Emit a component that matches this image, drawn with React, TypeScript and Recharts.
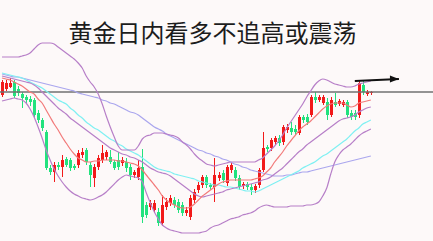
import React from 'react';
import { ComposedChart, Bar, Line, XAxis, YAxis, ReferenceLine } from 'recharts';

document.body.style.margin = '0';

const title = '黄金日内看多不追高或震荡';

// daily candles
const opens = [
  2355, 2361, 2363, 2368, 2361, 2356, 2353, 2351, 2350, 2337,
  2330, 2318, 2282, 2278, 2285, 2283, 2291, 2290, 2284, 2285,
  2295, 2300, 2285, 2272, 2283, 2290, 2293, 2293, 2288, 2290,
  2287, 2288, 2283, 2275, 2273, 2283, 2245, 2243, 2240, 2238,
  2227, 2243, 2247, 2250, 2248, 2245, 2237, 2233, 2250, 2260,
  2265, 2273, 2265, 2263, 2272, 2277, 2267, 2280, 2280, 2272,
  2264, 2266, 2263, 2260, 2265, 2280, 2303, 2302, 2308, 2312,
  2308, 2320, 2322, 2321, 2317, 2333, 2333, 2335, 2353, 2350,
  2347, 2348, 2335, 2348, 2346, 2345, 2348, 2337, 2337, 2335,
  2365, 2356, 2357,
];
const closes = [
  2368, 2367, 2367, 2354, 2357, 2352, 2350, 2348, 2335, 2330,
  2322, 2282, 2278, 2285, 2283, 2290, 2285, 2282, 2282, 2297,
  2298, 2288, 2275, 2283, 2292, 2297, 2298, 2288, 2282, 2283,
  2290, 2282, 2275, 2278, 2282, 2233, 2235, 2247, 2247, 2227,
  2245, 2248, 2252, 2245, 2240, 2237, 2240, 2252, 2258, 2265,
  2273, 2265, 2263, 2275, 2275, 2270, 2283, 2285, 2272, 2263,
  2266, 2263, 2260, 2264, 2280, 2302, 2301, 2310, 2312, 2307,
  2323, 2323, 2318, 2318, 2333, 2330, 2328, 2353, 2350, 2353,
  2353, 2335, 2350, 2345, 2349, 2348, 2335, 2333, 2333, 2367,
  2358, 2358, 2358,
];
const highs = [
  2370, 2370, 2372, 2370, 2364, 2358, 2355, 2354, 2352, 2340,
  2332, 2320, 2285, 2288, 2288, 2295, 2293, 2292, 2286, 2300,
  2302, 2302, 2288, 2286, 2295, 2305, 2300, 2300, 2290, 2298,
  2293, 2292, 2286, 2280, 2290, 2301, 2248, 2250, 2250, 2242,
  2255, 2252, 2255, 2253, 2251, 2248, 2243, 2255, 2261, 2268,
  2275, 2275, 2267, 2292, 2278, 2280, 2285, 2288, 2283, 2275,
  2268, 2268, 2266, 2266, 2282, 2318, 2305, 2312, 2314, 2315,
  2325, 2326, 2328, 2325, 2335, 2335, 2336, 2355, 2358, 2355,
  2355, 2352, 2353, 2357, 2351, 2350, 2350, 2340, 2340, 2370,
  2370, 2360, 2359,
];
const lows = [
  2353, 2359, 2362, 2352, 2354, 2342, 2346, 2344, 2332, 2327,
  2319, 2280, 2275, 2268, 2280, 2273, 2283, 2279, 2280, 2282,
  2292, 2285, 2263, 2263, 2280, 2287, 2290, 2286, 2280, 2280,
  2284, 2278, 2270, 2272, 2270, 2227, 2232, 2240, 2237, 2224,
  2224, 2240, 2244, 2242, 2237, 2234, 2234, 2230, 2247, 2257,
  2262, 2262, 2260, 2248, 2269, 2267, 2264, 2277, 2269, 2260,
  2261, 2260, 2255, 2257, 2262, 2278, 2298, 2299, 2305, 2304,
  2305, 2317, 2315, 2315, 2315, 2327, 2325, 2333, 2347, 2348,
  2345, 2330, 2333, 2343, 2344, 2343, 2332, 2330, 2330, 2332,
  2355, 2354, 2355,
];

// bollinger bands
const bollUpper = [
  2393, 2393, 2393, 2393, 2393, 2394, 2395, 2397, 2401, 2405,
  2407, 2407, 2407, 2406, 2403, 2400, 2397, 2394, 2391, 2387,
  2382, 2374, 2368, 2363, 2356, 2346, 2334, 2323, 2313, 2304,
  2300, 2300, 2300, 2300, 2304, 2311, 2314, 2315, 2317, 2317,
  2317, 2316, 2315, 2314, 2312, 2308, 2305, 2301, 2296, 2292,
  2289, 2286, 2285, 2284, 2285, 2286, 2287, 2288, 2288, 2288,
  2288, 2288, 2288, 2288, 2290, 2292, 2296, 2300, 2304, 2309,
  2315, 2322, 2328, 2334, 2340, 2346, 2353, 2359, 2365, 2369,
  2371, 2370, 2368, 2366, 2365, 2364, 2363, 2363, 2364, 2366,
  2367, 2368, 2369,
];
const bollMid = [
  2374, 2373, 2372, 2371, 2370, 2369, 2368, 2367, 2365, 2362,
  2358, 2354, 2350, 2346, 2342, 2339, 2336, 2332, 2329, 2326,
  2323, 2320, 2317, 2314, 2311, 2308, 2305, 2302, 2300, 2298,
  2296, 2295, 2293, 2292, 2290, 2288, 2285, 2282, 2280, 2278,
  2277, 2276, 2274, 2271, 2268, 2265, 2262, 2259, 2256, 2254,
  2253, 2254, 2255, 2256, 2257, 2258, 2260, 2261, 2262, 2263,
  2264, 2265, 2266, 2267, 2268, 2270, 2271, 2273, 2276, 2279,
  2282, 2286, 2290, 2294, 2298, 2301, 2305, 2308, 2311, 2314,
  2317, 2320, 2323, 2326, 2329, 2331, 2332, 2333, 2335, 2338,
  2340, 2342, 2343,
];
const bollLower = [
  2349, 2350, 2351, 2352, 2351, 2350, 2347, 2341, 2333, 2323,
  2312, 2300, 2290, 2281, 2274, 2268, 2263, 2259, 2256, 2254,
  2252, 2251, 2250, 2251, 2253, 2255, 2258, 2262, 2266, 2270,
  2273, 2275, 2274, 2273, 2272, 2268, 2257, 2247, 2238, 2231,
  2225, 2222, 2220, 2219, 2218, 2217, 2217, 2217, 2217, 2217,
  2218, 2219, 2222, 2224, 2225, 2227, 2229, 2231, 2232, 2233,
  2235, 2236, 2237, 2239, 2242, 2244, 2245, 2244, 2243, 2243,
  2243, 2243, 2244, 2244, 2244, 2244, 2245, 2245, 2246, 2248,
  2254, 2262, 2276, 2288, 2295, 2300, 2303, 2306, 2310, 2314,
  2317, 2319, 2321,
];

// moving averages
const maFast = [
  2372, 2371, 2370, 2368, 2366, 2364, 2361, 2358, 2356, 2351,
  2347, 2340, 2333, 2326, 2320, 2313, 2307, 2301, 2296, 2292,
  2290, 2288, 2288, 2289, 2289, 2290, 2290, 2290, 2290, 2289,
  2289, 2288, 2287, 2286, 2284, 2280, 2275, 2270, 2265, 2260,
  2254, 2250, 2247, 2245, 2243, 2242, 2242, 2243, 2246, 2250,
  2254, 2257, 2260, 2263, 2266, 2268, 2269, 2270, 2270, 2270,
  2270, 2270, 2270, 2271, 2272, 2274, 2278, 2282, 2288, 2293,
  2298, 2304, 2309, 2314, 2319, 2323, 2326, 2329, 2333, 2337,
  2341, 2344, 2346, 2347, 2347, 2347, 2345, 2343, 2344, 2347,
  2348, 2349, 2350,
];
const maMid = [
  2377, 2376, 2375, 2374, 2373, 2372, 2370, 2368, 2366, 2364,
  2362, 2359, 2356, 2353, 2350, 2348, 2346, 2342, 2339, 2335,
  2332, 2328, 2325, 2322, 2320, 2317, 2314, 2311, 2309, 2306,
  2304, 2301, 2299, 2297, 2295, 2292, 2289, 2286, 2283, 2281,
  2280, 2279, 2278, 2276, 2275, 2274, 2273, 2272, 2271, 2269,
  2268, 2267, 2266, 2265, 2265, 2264, 2263, 2263, 2262, 2261,
  2260, 2259, 2259, 2258, 2259, 2261, 2263, 2265, 2267, 2269,
  2271, 2273, 2275, 2277, 2279, 2282, 2284, 2286, 2288, 2291,
  2294, 2296, 2299, 2302, 2305, 2308, 2311, 2315, 2319, 2322,
  2326, 2328, 2330,
];
const maSlow = [
  2376, 2375, 2374, 2373, 2373, 2372, 2371, 2370, 2369, 2368,
  2367, 2366, 2365, 2364, 2363, 2362, 2361, 2360, 2359, 2357,
  2356, 2355, 2354, 2353, 2352, 2350, 2349, 2347, 2346, 2344,
  2342, 2340, 2338, 2337, 2335, 2332, 2329, 2326, 2323, 2321,
  2319, 2316, 2314, 2312, 2310, 2308, 2306, 2304, 2302, 2300,
  2299, 2297, 2296, 2294, 2293, 2291, 2290, 2288, 2286, 2285,
  2283, 2282, 2280, 2279, 2278, 2277, 2276, 2275, 2274, 2274,
  2274, 2275, 2275, 2276, 2277, 2278, 2278, 2279, 2280, 2281,
  2282, 2283, 2284, 2285, 2286, 2287, 2288, 2289, 2290, 2291,
  2292, 2293, 2294,
];

const resistance = 2358;
const arrowStart = { slot: 88, price: 2369 };
const arrowEnd = { slot: 99, price: 2371 };
const totalSlots = 108; // empty slots on the right leave room for the arrow

const upColor = '#f21a1a';
const downColor = '#22e27e';

const chartData = Array.from({ length: totalSlots }, (_, i) => {
  const has = i < opens.length;
  return {
    slot: i,
    open: has ? opens[i] : null,
    close: has ? closes[i] : null,
    high: has ? highs[i] : null,
    low: has ? lows[i] : null,
    range: has ? [lows[i], highs[i]] : null,
    upper: has ? bollUpper[i] : null,
    mid: has ? bollMid[i] : null,
    lower: has ? bollLower[i] : null,
    fast: has ? maFast[i] : null,
    medium: has ? maMid[i] : null,
    slow: has ? maSlow[i] : null,
    arrow: i === arrowStart.slot ? arrowStart.price : i === arrowEnd.slot ? arrowEnd.price : null,
  };
});

const Candle = (props: any) => {
  const { x, y, width, height, payload } = props;
  if (!payload || payload.open == null) return <g />;
  const { open, close, high, low } = payload;
  const color = close >= open ? upColor : downColor;
  const top = Math.min(y, y + height);
  const h = Math.abs(height);
  const ratio = h / (high - low || 1);
  const yOf = (v: number) => top + (high - v) * ratio;
  const cx = Math.round(x + width / 2) + 0.5;
  const bTop = yOf(Math.max(open, close));
  const bBot = yOf(Math.min(open, close));
  return (
    <g>
      <line x1={cx} x2={cx} y1={top} y2={top + h} stroke={color} strokeWidth={1} />
      <rect x={cx - 1.5} y={bTop} width={3} height={Math.max(bBot - bTop, 1)} fill={color} />
    </g>
  );
};

const ArrowHead = (props: any) => {
  const { cx, cy, index } = props;
  if (index !== arrowEnd.slot || cx == null) return <g key={`a${index}`} />;
  return (
    <polygon
      key={`a${index}`}
      points={`${cx},${cy} ${cx - 9},${cy - 3.5} ${cx - 9},${cy + 3.5}`}
      fill="#111"
    />
  );
};

const lineProps = {
  type: 'monotone' as const,
  strokeWidth: 1.2,
  dot: false,
  activeDot: false,
  isAnimationActive: false,
};

export default function App() {
  return (
    <div style={{ position: 'relative', width: 433, height: 241, background: '#fdf9f9' }}>
      <ComposedChart
        width={433}
        height={241}
        data={chartData}
        margin={{ top: 0, right: 0, bottom: 0, left: 0 }}
        barCategoryGap={0}
      >
        <XAxis dataKey="slot" hide />
        <YAxis hide domain={[2209, 2450]} allowDataOverflow />
        <ReferenceLine y={resistance} stroke="#707070" strokeWidth={1.5} />
        <Line {...lineProps} dataKey="slow" stroke="#aaa6ee" />
        <Line {...lineProps} dataKey="medium" stroke="#7ff0f2" />
        <Line {...lineProps} dataKey="upper" stroke="#b77fc8" />
        <Line {...lineProps} dataKey="mid" stroke="#b77fc8" />
        <Line {...lineProps} dataKey="lower" stroke="#b77fc8" />
        <Line {...lineProps} dataKey="fast" stroke="#f27a7a" />
        <Bar dataKey="range" shape={<Candle />} activeBar={false} isAnimationActive={false} />
        <Line
          type="linear"
          dataKey="arrow"
          stroke="#111"
          strokeWidth={2}
          connectNulls
          dot={<ArrowHead />}
          activeDot={false}
          isAnimationActive={false}
        />
      </ComposedChart>
      <div
        style={{
          position: 'absolute',
          left: 0,
          top: 17,
          width: 425,
          textAlign: 'center',
          fontFamily: '"Noto Sans CJK SC", sans-serif',
          fontSize: 24,
          lineHeight: '30px',
          color: '#1c1c1c',
        }}
      >
        {title}
      </div>
    </div>
  );
}
